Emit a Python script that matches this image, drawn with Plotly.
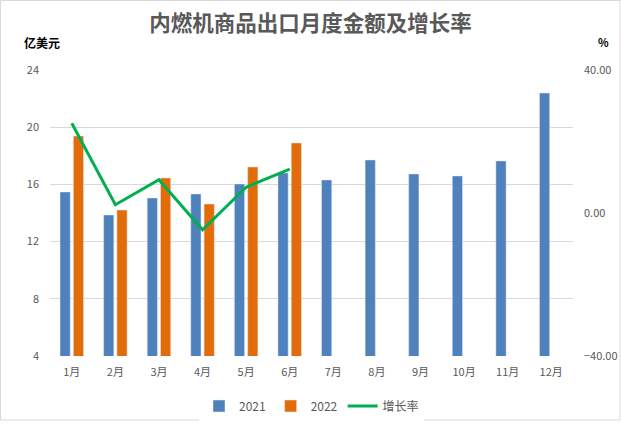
import plotly.graph_objects as go

months = ["1月", "2月", "3月", "4月", "5月", "6月", "7月", "8月", "9月", "10月", "11月", "12月"]
v2021 = [15.47, 13.86, 15.05, 15.33, 16.03, 16.80, 16.31, 17.71, 16.73, 16.59, 17.64, 22.39]
v2022 = [19.38, 14.21, 16.45, 14.63, 17.22, 18.90]
growth = [25.1, 2.3, 9.3, -4.7, 7.2, 12.3]

W, H = 621, 426
ml, mr, mt, mb = 50, 48, 70, 70
pw, ph = W - ml - mr, H - mt - mb

font = "Noto Sans CJK SC, Microsoft YaHei, sans-serif"
grey = "#595959"

fig = go.Figure()
fig.add_trace(go.Bar(x=months, y=v2021, name="2021", marker_color="#4f81bd"))
fig.add_trace(go.Bar(x=months[:len(v2022)], y=v2022, name="2022", marker_color="#e36c0a"))
fig.add_trace(go.Scatter(x=months[:len(growth)], y=growth, name="增长率", mode="lines",
                         line=dict(color="#00b050", width=3), yaxis="y2"))

def px_x(p):
    return (p - ml) / pw

def px_y(p):
    return 1 - (p - mt) / ph

fig.update_layout(
    width=W, height=H,
    margin=dict(l=ml, r=mr, t=mt, b=mb, autoexpand=False),
    paper_bgcolor="white", plot_bgcolor="white",
    barmode="group", bargap=0.39, bargroupgap=0.23,
    font=dict(family=font, size=11, color=grey),
    title=dict(text="<b>内燃机商品出口月度金额及增长率</b>", x=0.5, xanchor="center",
               y=1 - 23 / H, yanchor="middle", font=dict(size=21.5, color=grey, family=font)),
    xaxis=dict(type="category", categoryorder="array", categoryarray=months, automargin=False,
               showgrid=False, showline=False, ticks="", ticklabelstandoff=8,
               tickfont=dict(size=11, color=grey)),
    yaxis=dict(range=[4, 24], dtick=4, showgrid=True, gridcolor="#d9d9d9", gridwidth=1, automargin=False,
               zeroline=False, showline=False, ticks="", ticklabelstandoff=10,
               tickfont=dict(size=11, color=grey)),
    yaxis2=dict(range=[-40, 40], tickvals=[-40, 0, 40], tickformat=".2f", overlaying="y", automargin=False,
                side="right", showgrid=False, zeroline=False, showline=False, ticklabelstandoff=10,
                tickfont=dict(size=11, color=grey)),
    legend=dict(orientation="h", x=0.5, xanchor="center", y=px_y(406), yanchor="middle",
                font=dict(size=12, color=grey), itemwidth=30),
    showlegend=True,
)

fig.add_annotation(text="<b>亿美元</b>", xref="paper", yref="paper", x=px_x(22), y=px_y(42),
                   xanchor="left", yanchor="middle", showarrow=False,
                   font=dict(size=12, color="black", family=font))
fig.add_annotation(text="<b>%</b>", xref="paper", yref="paper", x=px_x(603), y=px_y(42),
                   xanchor="center", yanchor="middle", showarrow=False,
                   font=dict(size=11, color="black", family=font))
fig.add_shape(type="rect", xref="paper", yref="paper", x0=px_x(0.5), x1=px_x(620), y0=px_y(0.5), y1=px_y(420),
              line=dict(color="#d9d9d9", width=1), fillcolor="rgba(0,0,0,0)", layer="below")

post = ("var s=document.createElement('style');"
        "s.textContent='html,body{margin:0;padding:0;overflow:hidden;}';"
        "document.head.appendChild(s);")
fig.write_html("out.html", config={"displayModeBar": False}, post_script=post)
